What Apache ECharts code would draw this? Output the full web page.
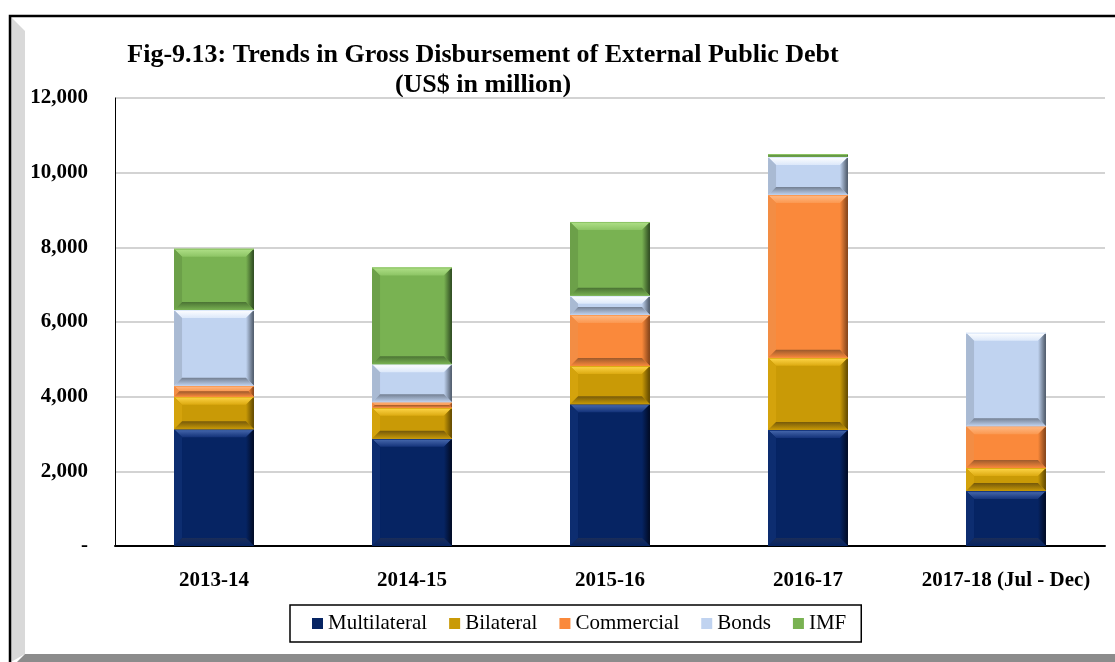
<!DOCTYPE html>
<html>
<head>
<meta charset="utf-8">
<script src="https://cdn.jsdelivr.net/npm/echarts@6/dist/echarts.min.js"></script>
<style>
  html, body { margin: 0; padding: 0; background: #ffffff; }
  #chart { width: 1115px; height: 662px; }
</style>
</head>
<body>
<div id="chart"></div>
<script>
// Fiscal years on the category axis
const years = ['2013-14', '2014-15', '2015-16', '2016-17', '2017-18 (Jul - Dec)'];

// Gross disbursement by source, US$ million
const multilateral = [3130, 2870, 3800, 3110, 1470];
const bilateral    = [870, 830, 1020, 1930, 620];
const commercial   = [290, 150, 1370, 4360, 1120];
const bonds        = [2030, 1020, 510, 1020, 2500];
const imf          = [1640, 2590, 1980, 80, 0];

const seriesNames = ['Multilateral', 'Bilateral', 'Commercial', 'Bonds', 'IMF'];
const seriesValues = [multilateral, bilateral, commercial, bonds, imf];

// Value-axis ticks
const yTicks = [0, 2000, 4000, 6000, 8000, 10000, 12000];

// Face / bevel shades for each source
const shades = [
  { face: '#062463', hi: '#4a6cb0', mid: '#14337a', left: '#0d2d70', right: '#010a22', bottom: '#1b2d58' },
  { face: '#c99a06', hi: '#ffd64a', mid: '#dcaa10', left: '#d4a30c', right: '#5e4600', bottom: '#75590a' },
  { face: '#fa893b', hi: '#ffbb88', mid: '#fb9850', left: '#f38d44', right: '#7e4119', bottom: '#9c5a2c' },
  { face: '#c0d3f0', hi: '#ffffff', mid: '#dce8fa', left: '#a9bad3', right: '#4a5564', bottom: '#737f92' },
  { face: '#79b252', hi: '#b0e088', mid: '#8cc464', left: '#6ca049', right: '#2c4720', bottom: '#4b7334' }
];

const BAR_RATIO = 80 / 198.2;
const BEVEL = 8;

// Stacked bars drawn as bevelled blocks; each datum is [category, base, top]
function stackedData(k) {
  return years.map((_, i) => {
    let base = 0;
    for (let s = 0; s < k; s++) base += seriesValues[s][i];
    return [i, base, base + seriesValues[k][i]];
  });
}

function makeRenderer(sh) {
  return function (params, api) {
    const i = api.value(0), lo = api.value(1), hi = api.value(2);
    if (!(hi > lo)) return;
    const pb = api.coord([i, lo]);
    const pt = api.coord([i, hi]);
    const bw = api.size([1, 0])[0] * BAR_RATIO;
    const x0 = pb[0] - bw / 2, x1 = pb[0] + bw / 2;
    const yb = pb[1], yt = pt[1];
    const h = yb - yt;
    const d = Math.min(BEVEL, h / 2, bw / 2);
    const children = [
      { type: 'rect', shape: { x: x0, y: yt, width: bw, height: h }, style: { fill: sh.face } },
      { type: 'polygon', shape: { points: [[x0, yt], [x1, yt], [x1 - d, yt + d], [x0 + d, yt + d]] },
        style: { fill: new echarts.graphic.LinearGradient(0, 0, 0, 1, [
          { offset: 0, color: sh.hi }, { offset: 1, color: sh.mid }]) } },
      { type: 'polygon', shape: { points: [[x0, yt], [x0 + d, yt + d], [x0 + d, yb - d], [x0, yb]] },
        style: { fill: sh.left } },
      { type: 'polygon', shape: { points: [[x1, yt], [x1, yb], [x1 - d, yb - d], [x1 - d, yt + d]] },
        style: { fill: new echarts.graphic.LinearGradient(0, 0, 1, 0, [
          { offset: 0, color: sh.face }, { offset: 1, color: sh.right }]) } },
      { type: 'polygon', shape: { points: [[x0, yb], [x0 + d, yb - d], [x1 - d, yb - d], [x1, yb]] },
        style: { fill: new echarts.graphic.LinearGradient(0, 0, 0, 1, [
          { offset: 0, color: sh.bottom }, { offset: 1, color: sh.face }]) } },
      { type: 'line', shape: { x1: x0, y1: yt + 0.5, x2: x1, y2: yt + 0.5 }, style: { stroke: sh.mid, lineWidth: 1 } }
    ];
    return { type: 'group', children };
  };
}

const chart = echarts.init(document.getElementById('chart'), null, { renderer: 'canvas' });

const serif = '"Liberation Serif", "Times New Roman", serif';

const option = {
  animation: false,
  backgroundColor: '#ffffff',
  graphic: [
    // Chart-area frame with grey bevel strips
    { type: 'polygon', silent: true, z: -10,
      shape: { points: [[11, 17], [25, 31], [25, 654], [11, 662]] }, style: { fill: '#d9d9d9' } },
    { type: 'polygon', silent: true, z: -10,
      shape: { points: [[25, 654], [1115, 654], [1115, 662], [17, 662]] }, style: { fill: '#8c8c8c' } },
    { type: 'rect', silent: true, z: -9,
      shape: { x: 10, y: 16, width: 1200, height: 700 }, style: { fill: 'none', stroke: '#000000', lineWidth: 2.5 } },
    { type: 'text', x: 483, y: 55, silent: true,
      style: { text: 'Fig-9.13: Trends in Gross Disbursement of External Public Debt', fill: '#000',
        font: 'bold 26px ' + serif, align: 'center', verticalAlign: 'middle' } },
    { type: 'text', x: 483, y: 85, silent: true,
      style: { text: '(US$ in million)', fill: '#000',
        font: 'bold 26px ' + serif, align: 'center', verticalAlign: 'middle' } }
  ],
  legend: {
    data: seriesNames,
    left: 290,
    top: 605,
    icon: 'rect',
    itemWidth: 11,
    itemHeight: 11,
    itemGap: 22,
    padding: [8, 15, 8, 22],
    borderColor: '#000000',
    borderWidth: 1.5,
    textStyle: { fontFamily: serif, fontSize: 21, color: '#000' }
  },
  grid: { left: 115, right: 10, top: 98, bottom: 116, containLabel: false },
  xAxis: {
    type: 'category',
    data: years,
    axisLine: { show: true, lineStyle: { color: '#000', width: 2 } },
    axisTick: { show: false },
    axisLabel: { margin: 24, color: '#000', fontFamily: serif, fontWeight: 'bold', fontSize: 21, interval: 0 }
  },
  yAxis: {
    type: 'value',
    min: yTicks[0],
    max: yTicks[yTicks.length - 1],
    interval: yTicks[1] - yTicks[0],
    axisLine: { show: true, lineStyle: { color: '#000', width: 1 } },
    axisTick: { show: false },
    splitLine: { lineStyle: { color: '#c4c4c4', width: 1.5 } },
    axisLabel: {
      margin: 27, color: '#000', fontFamily: serif, fontWeight: 'bold', fontSize: 21,
      formatter: v => v === 0 ? '-' : v.toLocaleString('en-US')
    }
  },
  series: seriesNames.map((name, k) => ({
    name,
    type: 'custom',
    renderItem: makeRenderer(shades[k]),
    itemStyle: { color: shades[k].face },
    encode: { x: 0, y: [1, 2] },
    data: stackedData(k)
  }))
};

chart.setOption(option);
</script>
</body>
</html>
